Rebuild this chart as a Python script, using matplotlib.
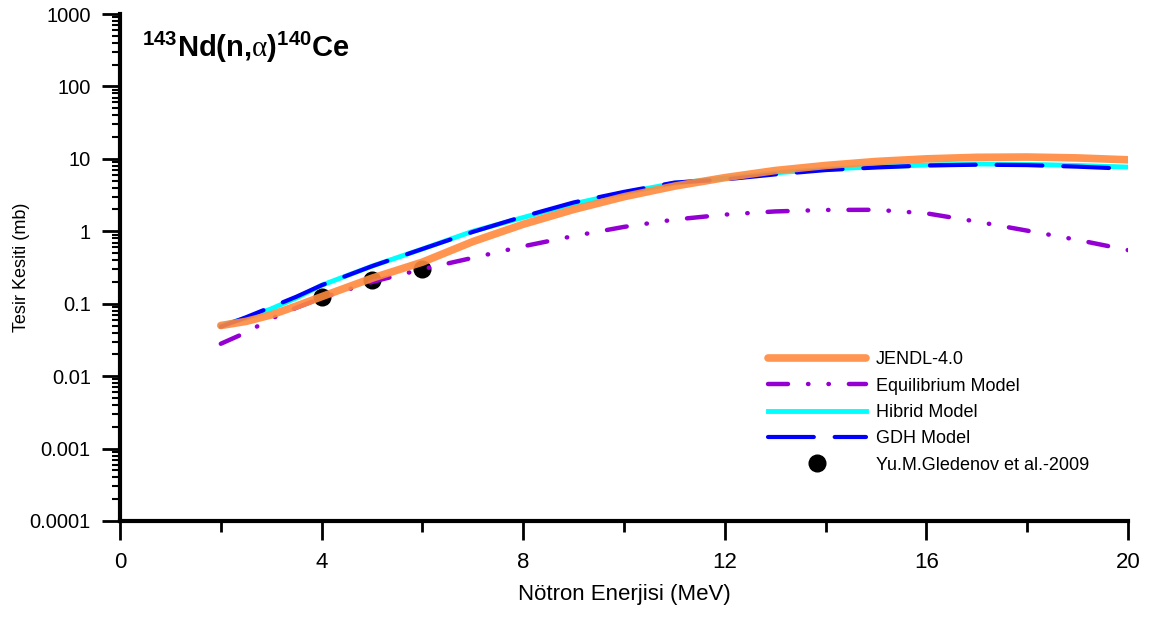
import matplotlib
matplotlib.use("Agg")
import matplotlib.pyplot as plt
import matplotlib.ticker as ticker
import numpy as np

plt.rcParams['font.family'] = ['Liberation Sans', 'DejaVu Sans']
plt.rcParams['mathtext.fontset'] = 'custom'
plt.rcParams['mathtext.rm'] = 'Liberation Serif'
plt.rcParams['mathtext.bf'] = 'Liberation Sans:bold'
plt.rcParams['mathtext.it'] = 'Liberation Sans:italic'

# neutron energy (MeV)
energy = [2, 2.5, 3, 3.5, 4, 5, 6, 7, 8, 9, 10, 11, 12, 13, 14, 15, 16, 17, 18, 19, 20]

# cross sections (mb)
jendl = [0.05, 0.057, 0.07, 0.093, 0.125, 0.225, 0.375, 0.72, 1.25, 2.0, 3.0, 4.2,
         5.5, 6.9, 8.1, 9.2, 10.0, 10.5, 10.6, 10.3, 9.7]
equilibrium = [0.028, 0.04, 0.062, 0.088, 0.12, 0.2, 0.3, 0.43, 0.62, 0.86, 1.15, 1.45,
               1.7, 1.88, 1.97, 1.98, 1.77, 1.36, 1.02, 0.76, 0.55]
hibrid = [0.05, 0.063, 0.085, 0.12, 0.18, 0.33, 0.57, 1.0, 1.55, 2.4, 3.4, 4.6,
          5.4, 6.4, 7.2, 7.8, 8.2, 8.5, 8.4, 8.1, 7.7]
gdh = [0.048, 0.065, 0.09, 0.125, 0.18, 0.33, 0.57, 0.98, 1.6, 2.5, 3.5, 4.7,
       5.2, 6.1, 7.0, 7.6, 8.1, 8.3, 8.2, 7.8, 7.3]

# experimental data
exp_energy = [4, 5, 6]
exp_xs = [0.122, 0.21, 0.305]

x_ticks = [0, 4, 8, 12, 16, 20]
x_minor = [2, 6, 10, 14, 18]
y_ticks = [1e-4, 1e-3, 1e-2, 1e-1, 1, 10, 100, 1000]
y_tick_labels = ['0.0001', '0.001', '0.01', '0.1', '1', '10', '100', '1000']

fig = plt.figure(figsize=(11.52, 6.23), dpi=100)
ax = fig.add_axes([120 / 1152, 1 - 521 / 623, 1008 / 1152, 507 / 623])

ax.plot(exp_energy, exp_xs, 'o', color='black', markersize=12, ls='none',
        label='Yu.M.Gledenov et al.-2009', zorder=2)
ax.plot(energy, equilibrium, color='#9400D3', lw=3.2, ls=(0, (4.5, 4.5, 0.1, 4.5, 0.1, 4.5)),
        dash_capstyle='round', label='Equilibrium Model', zorder=3)
ax.plot(energy, hibrid, color='#00FFFF', lw=3.5, label='Hibrid Model', zorder=4)
ax.plot(energy, gdh, color='#0000FF', lw=3, ls=(0, (11, 5)),
        dash_capstyle='round', label='GDH Model', zorder=5)
ax.plot(energy, jendl, color='#FF8A3D', lw=5.5, alpha=0.9,
        solid_capstyle='round', label='JENDL-4.0', zorder=6)

ax.set_yscale('log')
ax.set_xlim(0, 20)
ax.set_ylim(1e-4, 1000)
ax.set_xticks(x_ticks)
ax.set_xticks(x_minor, minor=True)
ax.set_yticks(y_ticks)
ax.set_yticklabels(y_tick_labels)
ax.yaxis.set_minor_locator(ticker.LogLocator(base=10, subs=np.arange(2, 10), numticks=100))
ax.yaxis.set_minor_formatter(ticker.NullFormatter())

for s in ['top', 'right']:
    ax.spines[s].set_visible(False)
for s in ['left', 'bottom']:
    ax.spines[s].set_linewidth(3)

ax.tick_params(axis='x', which='major', length=14, width=2, direction='out', labelsize=16, pad=8)
ax.tick_params(axis='x', which='minor', length=8, width=2, direction='out')
ax.tick_params(axis='y', which='major', length=13, width=2, direction='out', labelsize=14.5, pad=8)
ax.tick_params(axis='y', which='minor', length=6, width=1.5, direction='out')

ax.set_xlabel('Nötron Enerjisi (MeV)', fontsize=16, labelpad=8)
ax.set_ylabel('Tesir Kesiti (mb)', fontsize=13, labelpad=0)

ax.text(0.022, 0.915, r'$\mathbf{^{143}Nd(n{,}}\mathrm{\alpha}\mathbf{)^{140}Ce}$',
        transform=ax.transAxes, fontsize=21, va='baseline', ha='left')

handles, labels = ax.get_legend_handles_labels()
order = [4, 1, 2, 3, 0]
ax.legend([handles[i] for i in order], [labels[i] for i in order],
          loc='upper left', bbox_to_anchor=(0.643, 0.335), bbox_transform=ax.transAxes,
          frameon=False, fontsize=13, handlelength=5.4, handletextpad=0.55,
          labelspacing=0.52, borderpad=0, borderaxespad=0)

fig.savefig('out.png', dpi=100)
